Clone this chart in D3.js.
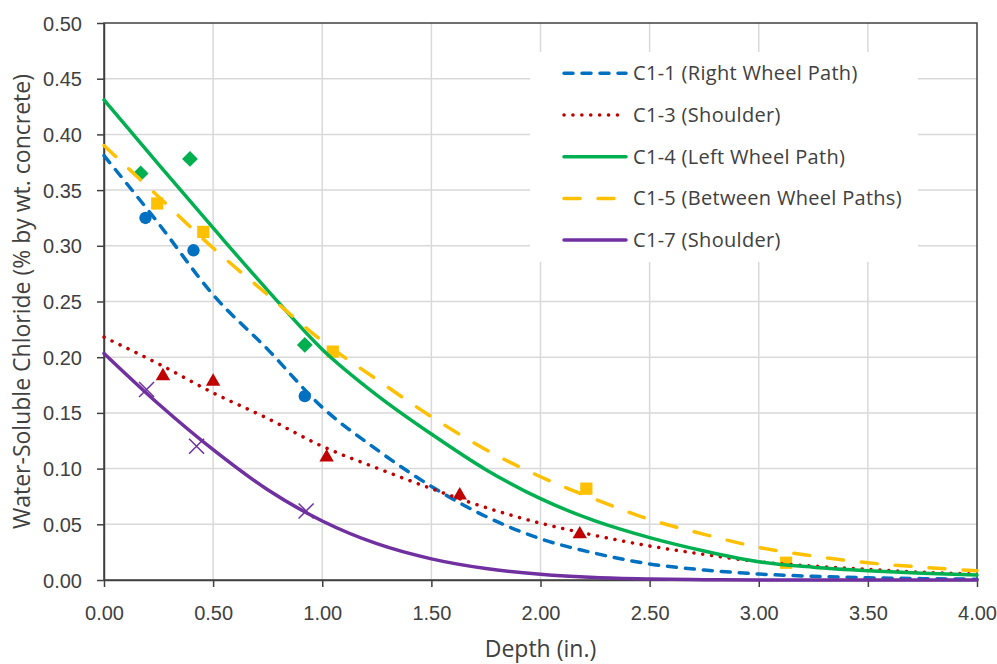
<!DOCTYPE html>
<html>
<head>
<meta charset="utf-8">
<script src="https://cdn.jsdelivr.net/npm/d3@7"></script>
<style>
  body { margin: 0; background: #fff; }
  svg { font-family: "Open Sans", "Noto Sans", sans-serif; }
</style>
</head>
<body>
<div id="chart"></div>
<script>
// profondità per le curve di regressione (in.)
var depth = [0, 0.25, 0.5, 0.75, 1.0, 1.25, 1.5, 1.75, 2.0, 2.25, 2.5, 2.75, 3.0, 3.25, 3.5, 3.75, 4.0];

// valori (% by wt. concrete)
var fitC11 = [0.381, 0.320, 0.256, 0.207, 0.155, 0.117, 0.084, 0.057, 0.037, 0.024, 0.0144, 0.009, 0.0054, 0.0033, 0.002, 0.0012, 0.0007];
var fitC13 = [0.218, 0.194, 0.168, 0.145, 0.120, 0.1005, 0.082, 0.065, 0.051, 0.040, 0.0305, 0.023, 0.0164, 0.0125, 0.0096, 0.007, 0.0054];
var fitC14 = [0.431, 0.373, 0.316, 0.260, 0.207, 0.166, 0.131, 0.099, 0.073, 0.053, 0.038, 0.026, 0.0164, 0.0115, 0.0083, 0.006, 0.0045];
var fitC15 = [0.390, 0.344, 0.298, 0.256, 0.2145, 0.180, 0.1466, 0.117, 0.0927, 0.0725, 0.0544, 0.041, 0.0293, 0.0215, 0.0155, 0.0115, 0.0083];
var fitC17 = [0.2034, 0.158, 0.117, 0.081, 0.053, 0.0326, 0.019, 0.0103, 0.0051, 0.0022, 0.0009, 0.0003, 0.0001, 0, 0, 0, 0];

// punti misurati
var ptC11x = [0.19, 0.41, 0.92],             ptC11y = [0.325, 0.296, 0.165];
var ptC13x = [0.27, 0.50, 1.02, 1.63, 2.18], ptC13y = [0.184, 0.179, 0.111, 0.077, 0.042];
var ptC14x = [0.168, 0.394, 0.92],           ptC14y = [0.365, 0.378, 0.211];
var ptC15x = [0.244, 0.455, 1.048, 2.21, 3.125], ptC15y = [0.338, 0.3125, 0.205, 0.082, 0.0155];
var ptC17x = [0.195, 0.424, 0.926],          ptC17y = [0.171, 0.120, 0.062];

var legendLabels = ["C1-1 (Right Wheel Path)", "C1-3 (Shoulder)", "C1-4 (Left Wheel Path)", "C1-5 (Between Wheel Paths)", "C1-7 (Shoulder)"];
var xTicks = [0, 0.5, 1, 1.5, 2, 2.5, 3, 3.5, 4];
var yTicks = [0, 0.05, 0.1, 0.15, 0.2, 0.25, 0.3, 0.35, 0.4, 0.45, 0.5];

var width = 997, height = 664;
var margin = {top: 23, right: 20, bottom: 84, left: 104};

var series = [
    {name: legendLabels[0], fit: fitC11, px: ptC11x, py: ptC11y, color: "#0070C0", dash: "9,9", mark: "circle"},
    {name: legendLabels[1], fit: fitC13, px: ptC13x, py: ptC13y, color: "#C00000", dash: "0.1,8.8", mark: "triangle"},
    {name: legendLabels[2], fit: fitC14, px: ptC14x, py: ptC14y, color: "#00B050", dash: null, mark: "diamond"},
    {name: legendLabels[3], fit: fitC15, px: ptC15x, py: ptC15y, color: "#FFC000", dash: "16,18", mark: "square"},
    {name: legendLabels[4], fit: fitC17, px: ptC17x, py: ptC17y, color: "#7030A0", dash: null, mark: "cross"}
];

var svg = d3.select("#chart")
            .append("svg")
            .attr("width", width)
            .attr("height", height);

var x = d3.scaleLinear().domain([0, 4]).range([margin.left, width - margin.right]);
var y = d3.scaleLinear().domain([0, 0.5]).range([height - margin.bottom, margin.top]);

// griglia
var grid = svg.append("g").attr("stroke", "#d9d9d9").attr("stroke-width", 1.5);
grid.selectAll("line.v")
    .data(xTicks.slice(1, -1))
    .enter().append("line")
    .attr("x1", function(d) { return x(d); })
    .attr("x2", function(d) { return x(d); })
    .attr("y1", y(0.5)).attr("y2", y(0));
grid.selectAll("line.h")
    .data(yTicks.slice(1, -1))
    .enter().append("line")
    .attr("y1", function(d) { return y(d); })
    .attr("y2", function(d) { return y(d); })
    .attr("x1", x(0)).attr("x2", x(4));

// sfondo della legenda (copre la griglia)
var lg = svg.append("g");
lg.append("rect")
  .attr("x", 530).attr("y", 52)
  .attr("width", 388).attr("height", 210)
  .attr("fill", "#fff");

// bordo
svg.append("rect")
   .attr("x", x(0)).attr("y", y(0.5))
   .attr("width", x(4) - x(0)).attr("height", y(0) - y(0.5))
   .attr("fill", "none")
   .attr("stroke", "#404040")
   .attr("stroke-width", 1.5);

// assi
var xAxis = svg.append("g")
    .attr("transform", "translate(0," + y(0) + ")")
    .call(d3.axisBottom(x).tickValues(xTicks).tickFormat(d3.format(".2f")).tickSizeInner(7).tickSizeOuter(0));
var yAxis = svg.append("g")
    .attr("transform", "translate(" + x(0) + ",0)")
    .call(d3.axisLeft(y).tickValues(yTicks).tickFormat(d3.format(".2f")).tickSizeInner(7).tickSizeOuter(0));

[xAxis, yAxis].forEach(function(a) {
    a.select(".domain").attr("stroke", "#404040").attr("stroke-width", 1.5);
    a.selectAll(".tick line").attr("stroke", "#404040").attr("stroke-width", 1.5);
    a.selectAll(".tick text").attr("fill", "#404040").style("font-size", "20px");
});
xAxis.selectAll(".tick text").attr("y", 40).attr("dy", 0);
yAxis.selectAll(".tick text").attr("x", -22).attr("dy", "0.35em");

svg.append("text")
   .attr("x", (x(0) + x(4)) / 2)
   .attr("y", 657)
   .attr("text-anchor", "middle")
   .attr("fill", "#404040")
   .style("font-size", "23px")
   .text("Depth (in.)");

svg.append("text")
   .attr("transform", "translate(30," + (y(0) + y(0.5)) / 2 + ") rotate(-90)")
   .attr("text-anchor", "middle")
   .attr("fill", "#404040")
   .style("font-size", "23px")
   .text("Water-Soluble Chloride (% by wt. concrete)");

// marcatori (sotto le linee)
var gMark = svg.append("g");
series.forEach(function(s) {
    var pts = s.px.map(function(d, i) { return [d, s.py[i]]; });
    var sel = gMark.selectAll(null).data(pts).enter();
    if (s.mark == "cross") {
        sel.append("path")
           .attr("d", function(d) {
               var cx = x(d[0]), cy = y(d[1]), r = 7.5;
               return "M" + (cx - r) + "," + (cy - r) + "L" + (cx + r) + "," + (cy + r) +
                      "M" + (cx - r) + "," + (cy + r) + "L" + (cx + r) + "," + (cy - r);
           })
           .attr("stroke", s.color)
           .attr("stroke-width", 1.5)
           .attr("fill", "none");
    } else {
        var sym = d3.symbol();
        if (s.mark == "circle") sym.type(d3.symbolCircle).size(120);
        if (s.mark == "triangle") sym.type(d3.symbolTriangle).size(90);
        if (s.mark == "diamond") sym.type(d3.symbolSquare).size(125);
        if (s.mark == "square") sym.type(d3.symbolSquare).size(150);
        sel.append("path")
           .attr("d", sym)
           .attr("transform", function(d) {
               var t = "translate(" + x(d[0]) + "," + y(d[1]) + ")";
               if (s.mark == "diamond") t += " rotate(45)";
               if (s.mark == "triangle") t += " translate(0,1)";
               return t;
           })
           .attr("fill", s.color);
    }
});

// curve
var line = d3.line()
    .x(function(d) { return x(d[0]); })
    .y(function(d) { return y(d[1]); })
    .curve(d3.curveMonotoneX);

var gLine = svg.append("g").attr("fill", "none");
series.forEach(function(s) {
    var pts = depth.map(function(d, i) { return [d, s.fit[i]]; });
    gLine.append("path")
         .attr("d", line(pts))
         .attr("stroke", s.color)
         .attr("stroke-width", 3.5)
         .attr("stroke-linecap", "round")
         .attr("stroke-dasharray", s.dash);
});

// legenda
var row = lg.selectAll("g.item")
    .data(series)
    .enter().append("g")
    .attr("transform", function(d, i) { return "translate(0," + (73.3 + i * 41.7) + ")"; });
row.append("line")
   .attr("x1", 564).attr("x2", 626)
   .attr("y1", 0).attr("y2", 0)
   .attr("stroke", function(d) { return d.color; })
   .attr("stroke-width", 3.5)
   .attr("stroke-linecap", "round")
   .attr("stroke-dasharray", function(d) { return d.dash; });
row.append("text")
   .attr("x", 633)
   .attr("dy", "0.35em")
   .attr("fill", "#404040")
   .style("font-size", "20px")
   .style("letter-spacing", "0.3px")
   .text(function(d) { return d.name; });
</script>
</body>
</html>
